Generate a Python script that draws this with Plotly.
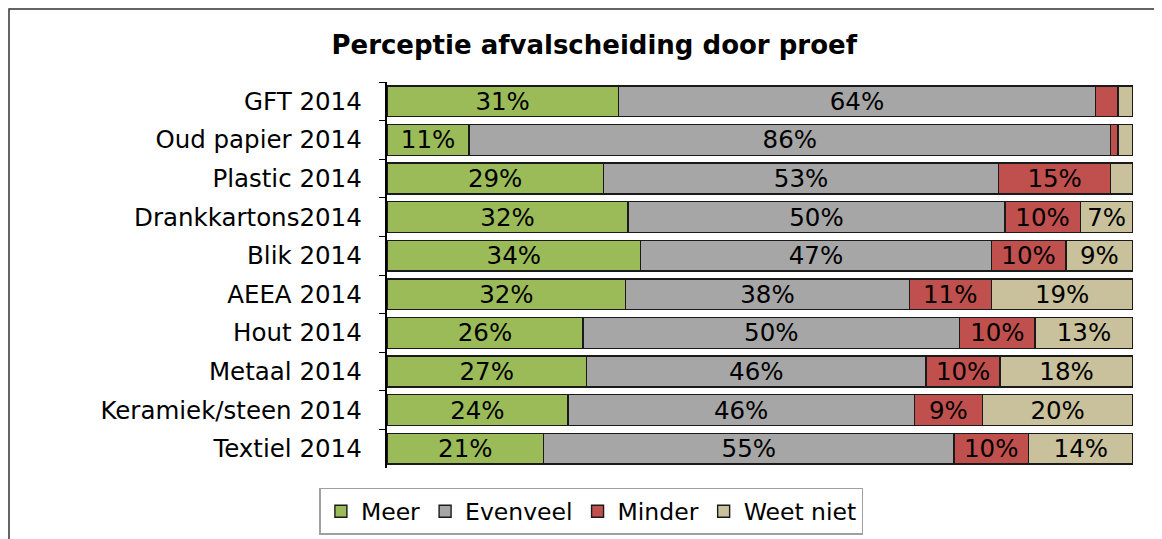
import plotly.graph_objects as go

categories = ["GFT 2014", "Oud papier 2014", "Plastic 2014", "Drankkartons2014", "Blik 2014",
              "AEEA 2014", "Hout 2014", "Metaal 2014", "Keramiek/steen 2014", "Textiel 2014"]
meer = [31, 11, 29, 32, 34, 32, 26, 27, 24, 21]
evenveel = [64, 86, 53, 50, 47, 38, 50, 46, 46, 55]
minder = [3, 1, 15, 10, 10, 11, 10, 10, 9, 10]
weet_niet = [2, 2, 3, 7, 9, 19, 13, 18, 20, 14]
series_names = ["Meer", "Evenveel", "Minder", "Weet niet"]
colors = ["#9BBB59", "#A6A6A6", "#C0504D", "#C9C09C"]
min_label = 5  # segments smaller than this get no label

FONT = "DejaVu Sans"

fig = go.Figure()
for name, vals, col in zip(series_names, [meer, evenveel, minder, weet_niet], colors):
    texts = [f"{v}%" if v >= min_label else "" for v in vals]
    fig.add_trace(go.Bar(
        y=categories, x=vals, name=name, orientation="h",
        marker=dict(color=col, line=dict(color="#1a1a1a", width=1.4)),
        text=texts, textposition="inside", insidetextanchor="middle",
        textfont=dict(family=FONT, size=24.5, color="black"),
        constraintext="none", hoverinfo="skip",
    ))

fig.update_layout(
    barmode="stack", barnorm="percent", bargap=0.2,
    width=1154, height=531,
    margin=dict(l=379, r=29, t=74, b=71, autoexpand=False),
    paper_bgcolor="white", plot_bgcolor="white",
    title=dict(text="<b>Perceptie afvalscheiding door proef</b>", x=0.508, xanchor="center",
               y=0.930, yanchor="middle",
               font=dict(family=FONT, size=26, color="black")),
    font=dict(family=FONT, size=23.5, color="black"),
    xaxis=dict(visible=False, range=[0, 100], fixedrange=True),
    yaxis=dict(autorange="reversed", tickson="boundaries", ticks="outside", ticklen=6,
               tickcolor="black", showline=True, linecolor="black", linewidth=1.5,
               tickfont=dict(family=FONT, size=24.5, color="black"), ticksuffix="  ",
               ticklabelstandoff=3),
    legend=dict(orientation="h", x=0.274, xanchor="center", y=-0.0518, yanchor="top",
                bordercolor="#A0A0A0", borderwidth=1.5, traceorder="normal",
                font=dict(family=FONT, size=23.5, color="black"), itemwidth=30),
    showlegend=True,
)
fig.add_shape(type="rect", xref="paper", yref="paper", x0=(1 - 379) / 746, x1=2,
              y0=-1, y1=(460 - 1) / 386, line=dict(color="#333333", width=1.5),
              fillcolor="rgba(0,0,0,0)", layer="below")
fig.write_html("out.html")
